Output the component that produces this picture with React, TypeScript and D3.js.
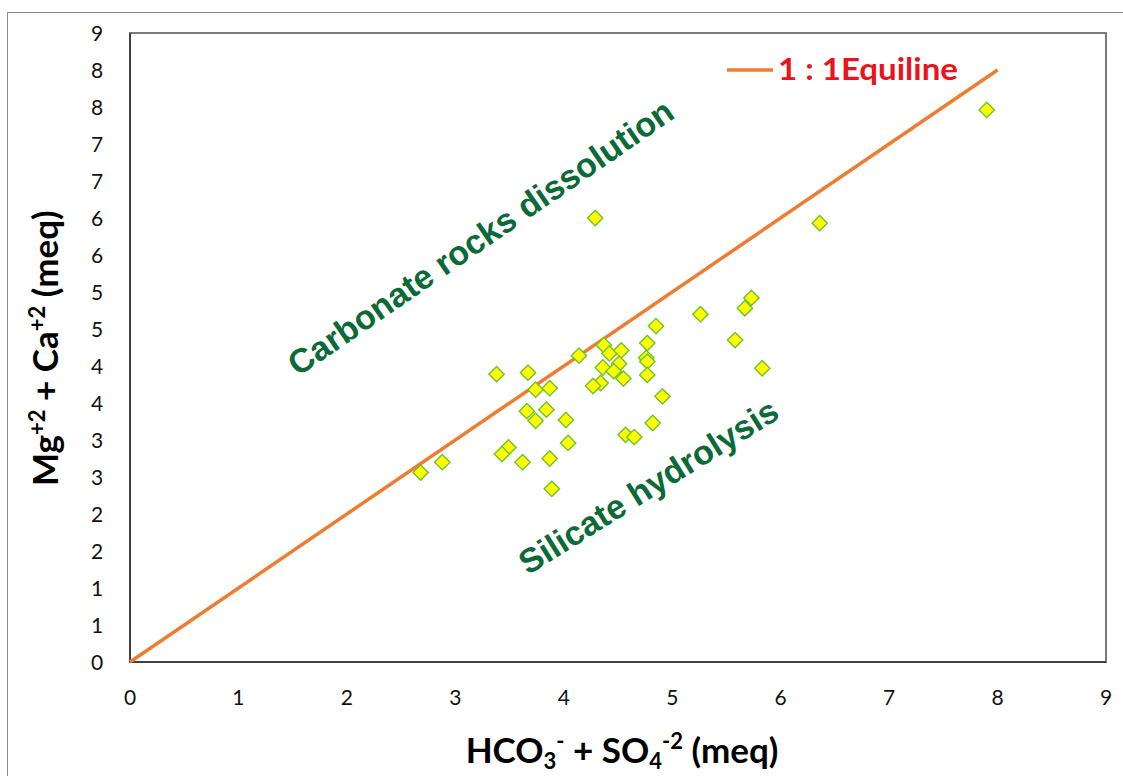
import React, { useRef, useEffect } from 'react';
import * as d3 from 'd3';

// sample points (meq)
const hco3so4 = [
  4.29, 3.38, 3.67, 4.14, 4.37, 4.42, 4.53, 4.36, 4.51, 4.46, 4.55,
  4.77, 4.76, 4.77, 4.77, 4.85, 4.34, 4.27, 3.74, 3.87, 3.66, 3.84,
  3.74, 4.02, 4.91, 4.04, 4.57, 4.65, 4.82, 3.49, 3.43, 3.62, 3.87,
  3.89, 2.68, 2.88, 5.26, 5.58, 5.67, 5.73, 5.83, 6.36, 7.9,
];
const mgca = [
  6.0, 3.89, 3.91, 4.14, 4.28, 4.17, 4.21, 3.98, 4.03, 3.93, 3.83,
  4.31, 4.11, 4.06, 3.88, 4.54, 3.77, 3.73, 3.68, 3.7, 3.39, 3.41,
  3.26, 3.27, 3.59, 2.96, 3.07, 3.04, 3.23, 2.9, 2.81, 2.7, 2.75,
  2.34, 2.56, 2.7, 4.7, 4.35, 4.78, 4.92, 3.97, 5.93, 7.46,
];
const equilineX = [0, 8];
const equilineY = [0, 8];
const xTicks = [0, 1, 2, 3, 4, 5, 6, 7, 8, 9];
const yTicks = [0, 0.5, 1, 1.5, 2, 2.5, 3, 3.5, 4, 4.5, 5, 5.5, 6, 6.5, 7, 7.5, 8, 8.5];
const legendLabel = '1 : 1Equiline';

const W = 1123;
const H = 776;
const plot = { left: 130, right: 1106, top: 33, bottom: 662 };

const App: React.FC = () => {
  const svgRef = useRef<SVGSVGElement>(null);

  useEffect(() => {
    const svg = d3.select(svgRef.current);
    svg.selectAll('*').remove();

    const x = d3.scaleLinear().domain([0, 9]).range([plot.left, plot.right]);
    const y = d3.scaleLinear().domain([0, 8.5]).range([plot.bottom, plot.top]);

    // outer chart frame
    svg
      .append('rect')
      .attr('x', 7.5)
      .attr('y', 12.5)
      .attr('width', W + 20)
      .attr('height', H + 20)
      .attr('fill', '#fff')
      .attr('stroke', '#8c8c8c')
      .attr('stroke-width', 1);

    // plot area frame
    svg
      .append('rect')
      .attr('x', plot.left)
      .attr('y', plot.top)
      .attr('width', plot.right - plot.left)
      .attr('height', plot.bottom - plot.top)
      .attr('fill', 'none')
      .attr('stroke', '#7a7a7a')
      .attr('stroke-width', 2);

    // axis lines
    svg
      .append('line')
      .attr('x1', plot.left)
      .attr('x2', plot.left)
      .attr('y1', plot.top)
      .attr('y2', plot.bottom)
      .attr('stroke', '#404040')
      .attr('stroke-width', 2);
    svg
      .append('line')
      .attr('x1', plot.left)
      .attr('x2', plot.right)
      .attr('y1', plot.bottom)
      .attr('y2', plot.bottom)
      .attr('stroke', '#404040')
      .attr('stroke-width', 2);

    const tickFont = 'Lato, "Open Sans", sans-serif';

    svg
      .append('g')
      .selectAll('text')
      .data(yTicks)
      .join('text')
      .attr('x', 97)
      .attr('y', (d) => y(d))
      .attr('dy', '0.36em')
      .attr('text-anchor', 'middle')
      .attr('font-family', tickFont)
      .attr('font-size', 21)
      .attr('fill', '#111')
      .text((d) => String(Math.round(d)));

    svg
      .append('g')
      .selectAll('text')
      .data(xTicks)
      .join('text')
      .attr('x', (d) => x(d))
      .attr('y', 697)
      .attr('dy', '0.36em')
      .attr('text-anchor', 'middle')
      .attr('font-family', tickFont)
      .attr('font-size', 21)
      .attr('fill', '#111')
      .text((d) => String(d));

    // 1:1 line
    const line = d3
      .line<number>()
      .x((d) => x(equilineX[d]))
      .y((d) => y(equilineY[d]));
    svg
      .append('path')
      .attr('d', line([0, 1]))
      .attr('fill', 'none')
      .attr('stroke', '#ED7D31')
      .attr('stroke-width', 3.5);

    // points
    const diamond = d3.symbol().type(d3.symbolDiamond2).size(150);
    svg
      .append('g')
      .selectAll('path')
      .data(d3.range(hco3so4.length))
      .join('path')
      .attr('transform', (i) => `translate(${x(hco3so4[i])},${y(mgca[i])})`)
      .attr('d', diamond)
      .attr('fill', '#FFFF00')
      .attr('stroke', '#6CC32C')
      .attr('stroke-width', 1.4);

    // zone labels
    const green = '#0B6A38';
    svg
      .append('text')
      .attr('transform', `translate(${x(1.55)},${y(3.85)}) rotate(-34.5)`)
      .attr('font-family', '"Liberation Sans", Arial, sans-serif')
      .attr('font-weight', 700)
      .attr('font-size', 34)
      .attr('fill', green)
      .text('Carbonate rocks dissolution');

    svg
      .append('text')
      .attr('transform', `translate(${x(3.67)},${y(1.17)}) rotate(-32)`)
      .attr('font-family', '"Liberation Sans", Arial, sans-serif')
      .attr('font-weight', 700)
      .attr('font-size', 34)
      .attr('fill', green)
      .text('Silicate hydrolysis');

    // legend
    svg
      .append('line')
      .attr('x1', 727)
      .attr('x2', 773)
      .attr('y1', 70)
      .attr('y2', 70)
      .attr('stroke', '#ED7D31')
      .attr('stroke-width', 3.5);
    svg
      .append('text')
      .attr('x', 778)
      .attr('y', 80)
      .attr('font-family', tickFont)
      .attr('font-weight', 700)
      .attr('font-size', 31)
      .attr('textLength', 180)
      .attr('lengthAdjust', 'spacingAndGlyphs')
      .attr('fill', '#E8141E')
      .text(legendLabel);

    // axis titles
    const xt = svg
      .append('text')
      .attr('x', 622)
      .attr('y', 763)
      .attr('text-anchor', 'middle')
      .attr('font-family', tickFont)
      .attr('font-weight', 700)
      .attr('font-size', 35)
      .attr('fill', '#000');
    xt.append('tspan').text('HCO');
    xt.append('tspan').attr('font-size', 22).attr('dy', 6).text('3');
    xt.append('tspan').attr('font-size', 22).attr('dy', -20).text('-');
    xt.append('tspan').attr('dy', 14).text(' + SO');
    xt.append('tspan').attr('font-size', 22).attr('dy', 6).text('4');
    xt.append('tspan').attr('font-size', 22).attr('dy', -20).text('-2');
    xt.append('tspan').attr('dy', 14).text(' (meq)');

    const yt = svg
      .append('text')
      .attr('transform', `translate(58,486) rotate(-90)`)
      .attr('text-anchor', 'start')
      .attr('font-family', tickFont)
      .attr('font-weight', 700)
      .attr('font-size', 35)
      .attr('fill', '#000');
    yt.append('tspan').text('Mg');
    yt.append('tspan').attr('font-size', 22).attr('dy', -13).text('+2');
    yt.append('tspan').attr('dy', 13).text(' + Ca');
    yt.append('tspan').attr('font-size', 22).attr('dy', -13).text('+2');
    yt.append('tspan').attr('dy', 13).text(' (meq)');
  }, []);

  return (
    <svg
      ref={svgRef}
      width={W}
      height={H}
      style={{ position: 'absolute', left: 0, top: 0, background: '#fff' }}
    />
  );
};

export default App;
